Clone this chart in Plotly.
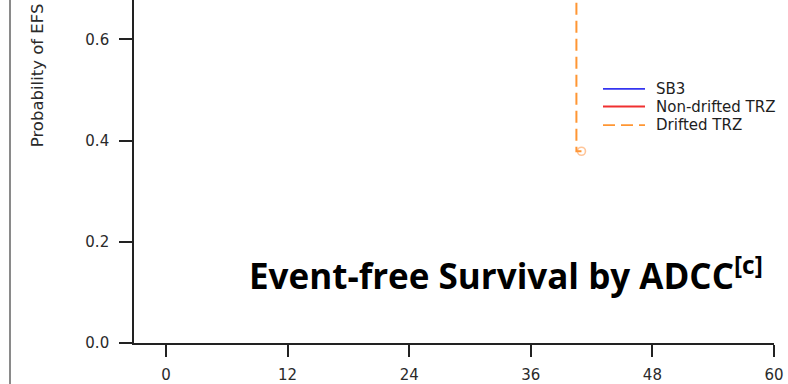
import plotly.graph_objects as go

# ---- data -------------------------------------------------------------
month_ticks = [0, 12, 24, 36, 48, 60]
prob_ticks = [0.0, 0.2, 0.4, 0.6]

series_names = ["SB3", "Non-drifted TRZ", "Drifted TRZ"]
series_colors = ["#3535F0", "#F03030", "#FF9633"]
series_dash = ["solid", "solid", "12px,6px"]

# Drifted TRZ Kaplan-Meier steps (months, survival probability)
drifted_time = [0.0, 40.5, 41.0]
drifted_surv = [1.0, 0.379, 0.379]
drifted_censor_time = [41.0]
drifted_censor_surv = [0.379]

title_text = "Event-free Survival by ADCC<sup>[c]</sup>"
y_title = "Probability of EFS"

# ---- layout geometry ----------------------------------------------------
W, H = 788, 384
ML, MR, MT, MB = 134, 14, 0, 33
PW, PH = W - ML - MR, H - MT - MB

SANS = "DejaVu Sans, Liberation Sans, Arial, sans-serif"


def px_x(px):
    return (px - ML) / PW


def px_y(py):
    return (H - MB - py) / PH


fig = go.Figure()

fig.add_trace(go.Scatter(
    x=drifted_time, y=drifted_surv, mode="lines", line_shape="hv",
    line=dict(color=series_colors[2], width=2, dash=series_dash[2]),
    showlegend=False, hoverinfo="skip",
))
fig.add_trace(go.Scatter(
    x=drifted_censor_time, y=drifted_censor_surv, mode="markers",
    marker=dict(symbol="circle-open", size=8,
                color="rgba(255,150,70,0.55)", line=dict(width=1.6)),
    showlegend=False, hoverinfo="skip",
))

axis_font = dict(family=SANS, size=15, color="#2a2a2a")

fig.update_xaxes(
    range=[-3.16, 60], tickvals=month_ticks, ticktext=[str(m) for m in month_ticks],
    showline=True, linecolor="#222", linewidth=1.6, showgrid=False, zeroline=False,
    ticks="outside", ticklen=12, tickwidth=1.6, tickcolor="#222", tickfont=axis_font,
    ticklabelstandoff=5,
)
fig.update_yaxes(
    range=[0, 0.678], tickvals=prob_ticks, tickformat=".1f",
    showline=True, linecolor="#222", linewidth=1.6, showgrid=False, zeroline=False,
    ticks="outside", ticklen=13, tickwidth=1.6, tickcolor="#222", tickfont=axis_font,
    ticklabelstandoff=7,
)

shapes = []
annotations = []

# legend keys
legend_rows = [91, 109, 128]
for name, color, dash, row in zip(series_names, series_colors, series_dash, legend_rows):
    shapes.append(dict(type="line", xref="paper", yref="paper",
                       x0=px_x(603), x1=px_x(645), y0=px_y(row), y1=px_y(row),
                       line=dict(color=color, width=1.8, dash=dash)))
    annotations.append(dict(xref="paper", yref="paper", x=px_x(654), y=px_y(row),
                            xanchor="left", yanchor="middle", showarrow=False, text=name,
                            font=dict(family=SANS, size=15, color="#1e1e1e")))

# frame edge on the left
shapes.append(dict(type="line", xref="paper", yref="paper",
                   x0=px_x(10), x1=px_x(10), y0=-0.2, y1=1.2,
                   line=dict(color="#8a8a8a", width=2)))

annotations.append(dict(xref="paper", yref="paper", x=px_x(37), y=px_y(77),
                        textangle=-90, showarrow=False, text=y_title,
                        xanchor="center", yanchor="middle",
                        font=dict(family=SANS, size=16.5, color="#2a2a2a")))

annotations.append(dict(xref="paper", yref="paper", x=px_x(247), y=px_y(280),
                        xanchor="left", yanchor="middle", showarrow=False, text=title_text,
                        font=dict(family="Open Sans, sans-serif", size=35,
                                  color="#000000", weight="bold")))

fig.update_layout(
    width=W, height=H, margin=dict(l=ML, r=MR, t=MT, b=MB, pad=0),
    paper_bgcolor="white", plot_bgcolor="white",
    shapes=shapes, annotations=annotations, showlegend=False,
)

fig.write_html("out.html")
